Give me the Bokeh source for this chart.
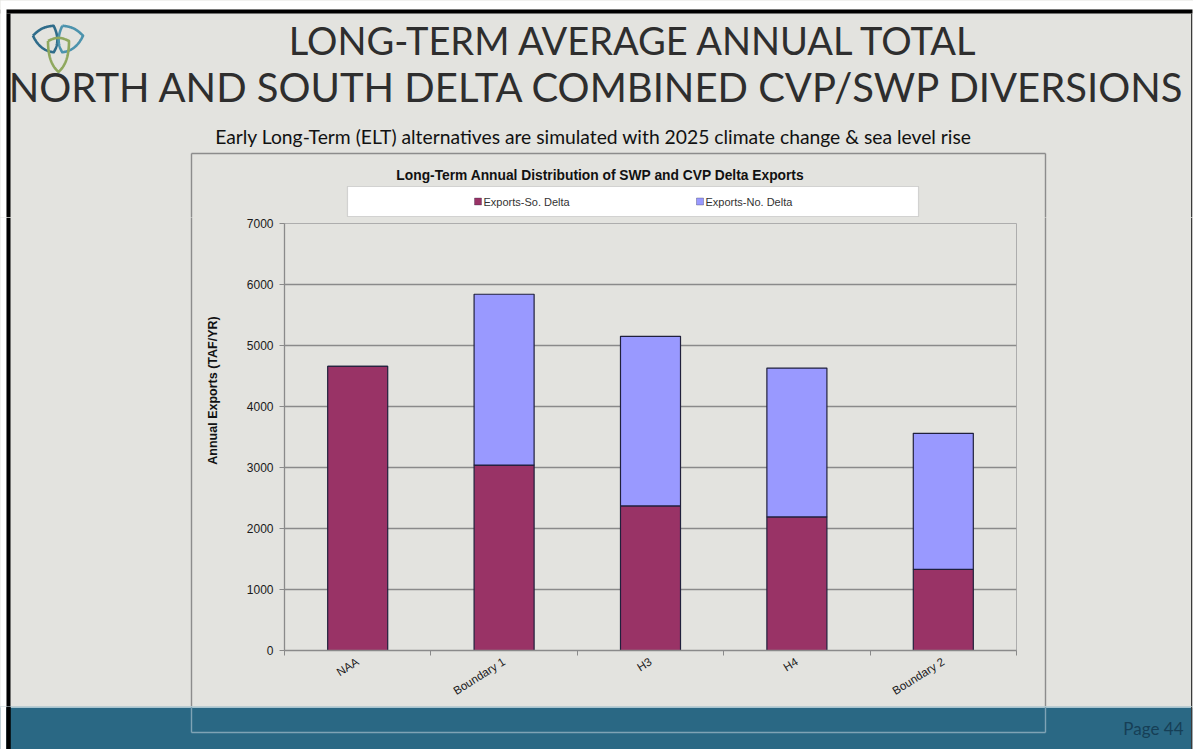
import math
import numpy as np
from bokeh.plotting import figure
from bokeh.layouts import column, row
from bokeh.models import (ColumnDataSource, FixedTicker, Label, BoxAnnotation,
                          Range1d)
from bokeh.embed import file_html
from bokeh.resources import INLINE

# ---------------- data ----------------
categories = ["NAA", "Boundary 1", "H3", "H4", "Boundary 2"]
exports_south = [4660, 3040, 2370, 2190, 1330]
exports_north = [0, 2800, 2780, 2440, 2230]
series_names = ["Exports-So. Delta", "Exports-No. Delta"]
series_colors = ["#993366", "#9999ff"]
y_ticks = [0, 1000, 2000, 3000, 4000, 5000, 6000, 7000]

slide_title_1 = "LONG-TERM AVERAGE ANNUAL TOTAL"
slide_title_2 = "NORTH AND SOUTH DELTA COMBINED CVP/SWP DIVERSIONS"
slide_subtitle = "Early Long-Term (ELT) alternatives are simulated with 2025 climate change & sea level rise"
chart_title = "Long-Term Annual Distribution of SWP and CVP Delta Exports"
y_label = "Annual Exports (TAF/YR)"
page_label = "Page 44"

# ---------------- layout (picture pixels) ----------------
W, H = 1193, 749
FL, FR, FT, FB = 284, 1016, 223, 650      # chart plot frame
HEAD_B = 217                              # bottom of header strip
FOOT_T = 706                              # top of footer band
CL, CR = 232, 1030                        # chart figure left / right
BOX_L, BOX_R, BOX_T, BOX_B = 191, 1045, 153, 732   # chart outer box
LEG_X = [477.5, 699.5]                    # legend swatch positions

BG = "#e3e3df"
BAND = "#2a6884"
BOX_LINE = "#8c8c8c"
AXIS_GRAY = "#8a8a8a"
BAR_EDGE = "#20203c"
CHART_FONT = "Liberation Sans"
SLIDE_FONT = "Lato"


def panel(x0, x1, y0, y1):
    """A plain drawing strip whose data units are picture pixels."""
    f = figure(width=x1 - x0, height=y1 - y0,
               x_range=Range1d(x0, x1), y_range=Range1d(y1, y0),
               x_axis_type=None, y_axis_type=None, toolbar_location=None,
               output_backend="svg", min_border=0, outline_line_color=None,
               background_fill_color=BG, border_fill_color=BG)
    f.title.visible = False
    f.frame_align = False
    return f


def rect(f, l, r, t, b, color, alpha=1.0, line_color=None, line_width=1):
    f.add_layout(BoxAnnotation(left=l, right=r, top=t, bottom=b,
                               fill_color=color, fill_alpha=alpha,
                               line_color=line_color, line_width=line_width))


def vline(f, x, t, b, color, w=1.4):
    rect(f, x - w / 2, x + w / 2, t, b, color)


def hline(f, y, l, r, color, w=1.4):
    rect(f, l, r, y - w / 2, y + w / 2, color)


def text(f, x, y, t, size, font, color="#1a1a1a", style="normal",
         align="center", baseline="middle", angle=0.0):
    f.add_layout(Label(x=x, y=y, text=t, text_font=font, text_font_size=size,
                       text_color=color, text_font_style=style,
                       text_align=align, text_baseline=baseline, angle=angle))


def slide_edges(f, y0, y1):
    rect(f, -5, 6, y0 - 5, y1 + 5, "white")
    rect(f, 6, 10, max(y0, 9), y1 + 5, "black")
    rect(f, 1190.5, 1192, max(y0, 9), y1 + 5, "#3a3a3a")
    rect(f, 1192, 1200, y0 - 5, y1 + 5, "white")


def shield(f, cx, cy, w, h, ang, color):
    t = np.linspace(0, 1, 40)
    tx = -w / 2 + w * t
    ty = -h / 2 - 0.10 * h * np.sin(np.pi * t)
    p0, p1, p2, p3 = (w / 2, -h / 2), (w / 2, 0.12 * h), (0.22 * w, 0.36 * h), (0, h / 2)
    bx = (1 - t) ** 3 * p0[0] + 3 * (1 - t) ** 2 * t * p1[0] + 3 * (1 - t) * t ** 2 * p2[0] + t ** 3 * p3[0]
    by = (1 - t) ** 3 * p0[1] + 3 * (1 - t) ** 2 * t * p1[1] + 3 * (1 - t) * t ** 2 * p2[1] + t ** 3 * p3[1]
    xs = np.concatenate([tx, bx, -bx[::-1]])
    ys = np.concatenate([ty, by, by[::-1]])
    ca, sa = math.cos(ang), math.sin(ang)
    f.line(cx + xs * ca - ys * sa, cy + xs * sa + ys * ca,
           line_color=color, line_width=2.6, line_join="round")


# ================= header strip =================
head = panel(0, W, 0, HEAD_B)
rect(head, -5, W + 5, -5, 9, "white")
rect(head, 0, W, 9, 13, "black")
slide_edges(head, 13, HEAD_B)

shield(head, 48, 41, 23, 24, -0.45, "#2f6c8a")
shield(head, 67, 41, 23, 24, 0.45, "#4c93ad")
shield(head, 58, 56, 21, 31, 0.0, "#8fa85e")

text(head, 634, 39, slide_title_1, "38px", SLIDE_FONT, color="#2e2e2e")
text(head, 597, 86, slide_title_2, "40px", SLIDE_FONT, color="#2e2e2e")
text(head, 593, 136, slide_subtitle, "19.3px", SLIDE_FONT, color="#111111")

# chart outer box (upper part)
hline(head, BOX_T, BOX_L, BOX_R, BOX_LINE)
vline(head, BOX_L, BOX_T, HEAD_B + 2, BOX_LINE)
vline(head, BOX_R, BOX_T, HEAD_B + 2, BOX_LINE)

text(head, 600, 175, chart_title, "13.8px", CHART_FONT, color="#111111",
     style="bold")

# legend box, swatches and labels
rect(head, 347, 918, 186, 216, "white", line_color="#8a8a8a", line_width=1.2)
for lx, name, color in zip(LEG_X, series_names, series_colors):
    rect(head, lx - 3.5, lx + 3.5, 197.5, 204.5, color, line_color=BAR_EDGE,
         line_width=1)
    text(head, lx + 5.5, 201, name, "11px", CHART_FONT, color="#333333",
         align="left")

# ================= left strip =================
left = panel(0, CL, HEAD_B, FOOT_T)
slide_edges(left, HEAD_B, FOOT_T)
vline(left, BOX_L, HEAD_B - 2, FOOT_T + 2, BOX_LINE)
text(left, 212, 390, y_label, "12.5px", CHART_FONT, color="#111111",
     style="bold", angle=math.pi / 2)

# ================= chart =================
n = len(categories)
p = figure(width=CR - CL, height=FOOT_T - HEAD_B,
           x_range=Range1d(0, n), y_range=Range1d(0, 7000),
           output_backend="svg", toolbar_location=None,
           min_border_left=FL - CL, min_border_right=CR - FR,
           min_border_top=FT - HEAD_B, min_border_bottom=FOOT_T - FB,
           background_fill_color=BG, border_fill_color=BG)
p.title.visible = False
p.frame_align = False
p.outline_line_color = "#adadad"
p.outline_line_width = 1

src = ColumnDataSource(dict(
    x=[i + 0.5 for i in range(n)],
    south=exports_south,
    north=exports_north,
))
p.vbar_stack(["south", "north"], x="x", width=0.41, source=src,
             fill_color=series_colors, line_color=BAR_EDGE, line_width=1.2)

yt = FixedTicker(ticks=y_ticks)
p.yaxis.ticker = yt
p.ygrid.ticker = yt
p.ygrid.grid_line_color = AXIS_GRAY
p.ygrid.grid_line_width = 1.3
p.xgrid.grid_line_color = None

p.yaxis.axis_line_color = AXIS_GRAY
p.yaxis.axis_line_width = 1.3
p.yaxis.major_tick_line_color = AXIS_GRAY
p.yaxis.major_tick_out = 5
p.yaxis.major_tick_in = 0
p.yaxis.minor_tick_line_color = None
p.yaxis.major_label_text_font = CHART_FONT
p.yaxis.major_label_text_font_size = "12px"
p.yaxis.major_label_text_color = "#1a1a1a"
p.yaxis.major_label_standoff = 6

xt = FixedTicker(ticks=[i + 0.5 for i in range(n)], minor_ticks=list(range(n + 1)))
p.xaxis.ticker = xt
p.xaxis.major_label_overrides = {i + 0.5: c for i, c in enumerate(categories)}
p.xaxis.axis_line_color = AXIS_GRAY
p.xaxis.axis_line_width = 1.3
p.xaxis.major_tick_line_color = None
p.xaxis.major_tick_out = 0
p.xaxis.major_tick_in = 0
p.xaxis.minor_tick_line_color = AXIS_GRAY
p.xaxis.minor_tick_out = 5
p.xaxis.minor_tick_in = 0
p.xaxis.major_label_orientation = 0.56
p.xaxis.major_label_standoff = 5
p.xaxis.major_label_text_font = CHART_FONT
p.xaxis.major_label_text_font_size = "11.5px"
p.xaxis.major_label_text_color = "#1a1a1a"

# ================= right strip =================
right = panel(CR, W, HEAD_B, FOOT_T)
slide_edges(right, HEAD_B, FOOT_T)
vline(right, BOX_R, HEAD_B - 2, FOOT_T + 2, BOX_LINE)

# ================= footer band =================
foot = panel(0, W, FOOT_T, H)
rect(foot, -5, W + 5, FOOT_T, H + 5, BAND)
hline(foot, FOOT_T + 0.6, -5, W + 5, "#cfe2e9", w=1.2)
band_box = "#7fa3b5"
vline(foot, BOX_L, FOOT_T, BOX_B, band_box)
vline(foot, BOX_R, FOOT_T, BOX_B, band_box)
hline(foot, BOX_B, BOX_L, BOX_R, band_box)
slide_edges(foot, FOOT_T, H)
rect(foot, 6, 10, FOOT_T, H + 5, "black")
text(foot, 1183, 728, page_label, "17px", SLIDE_FONT, color="#163f56",
     align="right")

middle = row(left, p, right, spacing=0, styles={"background-color": BG})
layout = column(head, middle, foot, spacing=0,
                styles={"background-color": BG})
open("out.html", "w").write(file_html(layout, INLINE))
